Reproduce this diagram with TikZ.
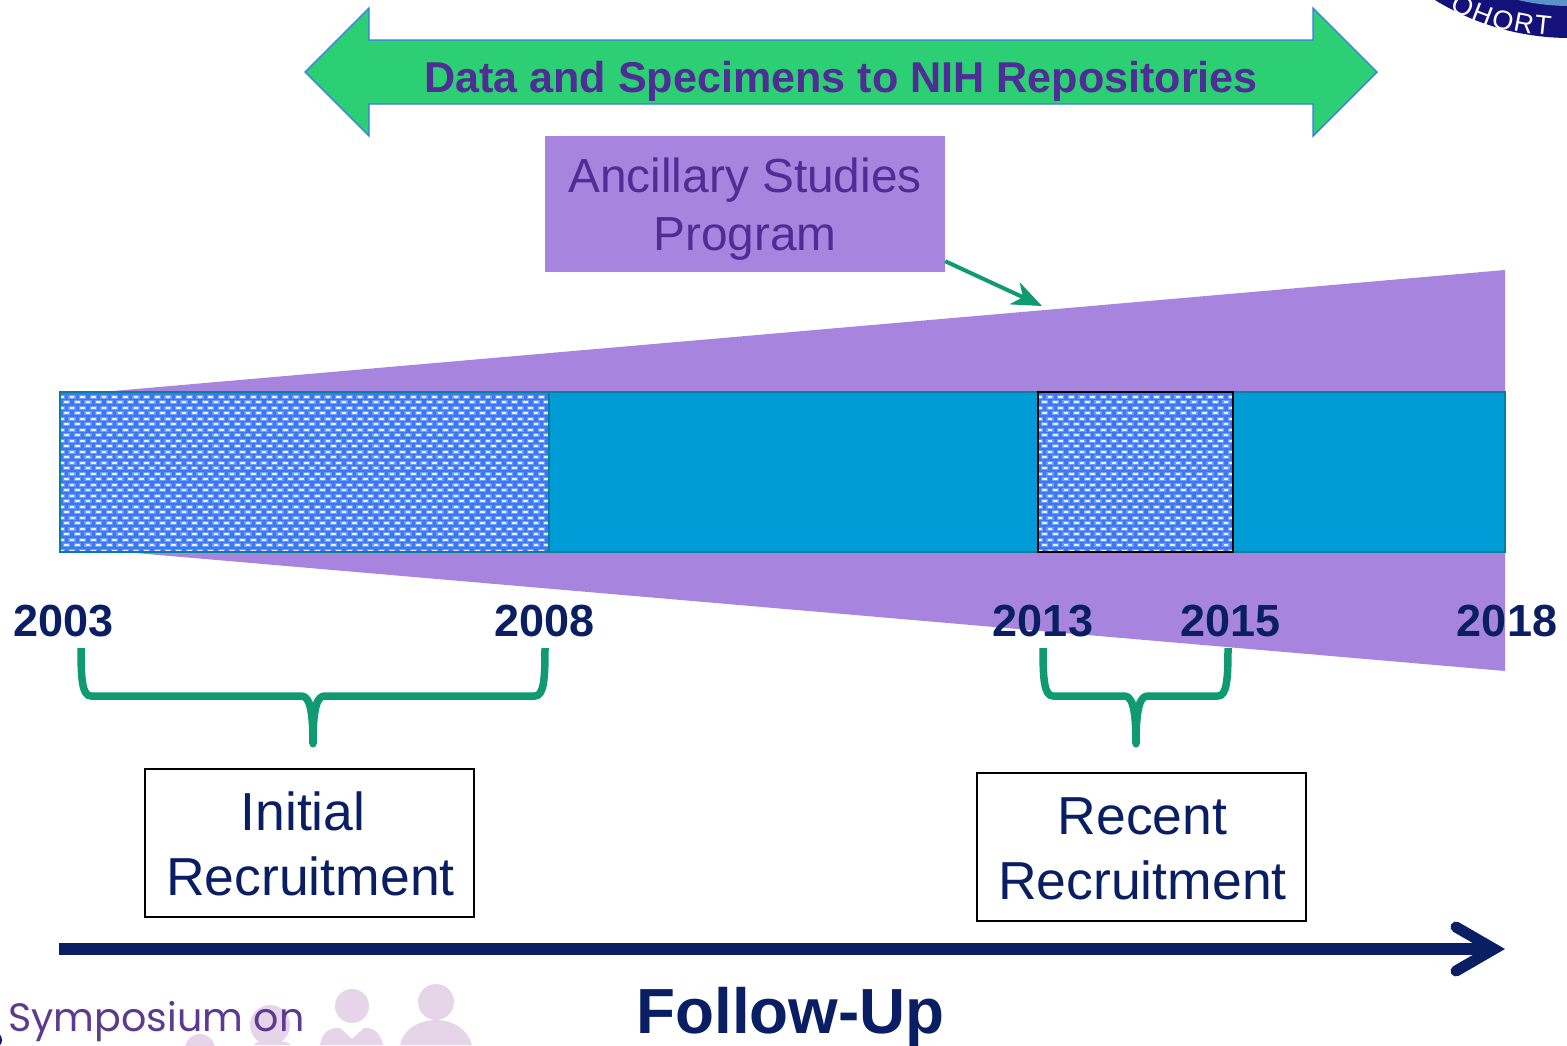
\documentclass[tikz,border=0pt]{standalone}
\usepackage{fontspec}
\setmainfont{Liberation Sans}
\newfontfamily\symfont{Poppins}
\usetikzlibrary{arrows.meta,calc}
\definecolor{navyc}{HTML}{0A1F63}
\definecolor{greenc}{HTML}{2CCF73}
\definecolor{edgec}{HTML}{3A78F0}
\definecolor{purpc}{HTML}{A785DE}
\definecolor{purptxt}{HTML}{4F2C96}
\definecolor{barc}{HTML}{009CD8}
\definecolor{baredge}{HTML}{0A7F9A}
\definecolor{tealc}{HTML}{109A72}
\definecolor{hatchbg}{HTML}{3B78F2}
\definecolor{hatchhalo}{HTML}{6F9CF6}
\definecolor{hatchdot}{HTML}{E8F0FF}
\definecolor{peoplec}{HTML}{E6D5E8}
\definecolor{logoc}{HTML}{14127A}
\definecolor{logoin}{HTML}{5B93C8}
\definecolor{symc}{HTML}{5E3A8E}
\newcommand{\fsz}[1]{\fontsize{#1}{#1}\selectfont}
\newcommand{\hatchdots}[4]{% x1 y1 x2 y2
  \begin{scope}
    \clip (#1,#2) rectangle (#3,#4);
    \pgfmathtruncatemacro{\nrows}{(#4-#2)/5.5+1}
    \pgfmathtruncatemacro{\ncols}{(#3-#1)/10.67+1}
    \foreach \r in {0,...,\nrows}{
      \foreach \c in {0,...,\ncols}{
        \pgfmathsetmacro{\px}{#1+1.3+\c*10.67+(mod(\r,2)==1 ? -5.33 : 0)}
        \pgfmathsetmacro{\py}{#2+4.7+\r*5.5}
        \fill[hatchhalo] (\px-3.6,\py-1.9) rectangle (\px+3.6,\py+1.9);
        \fill[hatchdot] (\px-2.3,\py-1.0) rectangle (\px+2.3,\py+1.0);
      }
    }
  \end{scope}
}
\newcommand{\bracedraw}[5]{% left x, right x, centre x, top y, tip y
  \draw[bracestyle] (#1,#4) .. controls (#1,#4+30) and (#1+1,#4+48) .. (#1+10,#4+48)
    -- (#3-12,#4+48) .. controls (#3-5,#4+48) and (#3,#4+56) .. (#3,#5);
  \draw[bracestyle] (#2,#4) .. controls (#2,#4+30) and (#2-1,#4+48) .. (#2-10,#4+48)
    -- (#3+12,#4+48) .. controls (#3+5,#4+48) and (#3,#4+56) .. (#3,#5);
  \fill[tealc] (#3,#4+50) -- (#3+3.6,#5-3) -- (#3-3.6,#5-3) -- cycle;
  \fill[tealc] (#3,#5) circle (3.5);
}
\tikzset{
  yearlab/.style={font=\fsz{45}\bfseries,text=navyc,inner sep=0pt},
  recbox/.style={draw=black,line width=1.6pt,fill=white,text=navyc,align=center,
    minimum width=329pt,minimum height=148pt,inner sep=0pt},
  boxtext/.style={inner sep=0pt,text=navyc,font=\fsz{53.5},anchor=base},
  bracestyle/.style={draw=tealc,line width=7.5pt,line cap=butt,line join=round},
}
\begin{document}
\begin{tikzpicture}[x=1pt,y=-1pt]
\useasboundingbox (0,0) rectangle (1567,1045);
\begin{scope}
\clip (0,0) rectangle (1567,1045);
% logo
\fill[logoc] (1570,-221) circle (259);
\fill[logoin] (1570,-221) circle (227);
\foreach \ch/\xx/\yy/\aa in {O/1463/6/-27,H/1483/14/-21,O/1503/20/-16,R/1524/23/-11,T/1543/25/-6}{
  \node[text=white,font=\fsz{27},inner sep=0pt,rotate=\aa] at (\xx,\yy) {\ch};
}
% bottom-left people
\fill[peoplec] (270,1025) circle (20);
\fill[peoplec] (200,1049) circle (15);
\fill[peoplec] (352,1006) circle (17);
\fill[peoplec] (436,1002) circle (18);
\fill[peoplec] (320,1045) .. controls (322,1032) and (330,1027) .. (340,1028) -- (352,1039) -- (364,1028) .. controls (374,1027) and (381,1034) .. (383,1045) -- cycle;
\fill[peoplec] (400,1045) .. controls (403,1030) and (418,1020) .. (436,1020) .. controls (454,1020) and (468,1030) .. (472,1045) -- cycle;
\fill[peoplec] (254,1045) .. controls (256,1042) and (262,1040) .. (266,1042) -- (270,1045) -- (274,1042) .. controls (280,1040) and (288,1042) .. (291,1045) -- cycle;
\fill[logoc] (-6,1040) circle (8);
\end{scope}
\node[anchor=base west,inner sep=0pt,text=symc,font=\symfont\fsz{39.6}] (sym) at (8,1031) {Symposium on};
% double arrow
\draw[fill=greenc,draw=edgec,line width=1.4pt,line join=miter]
  (305,72) -- (369,8) -- (369,40) -- (1313,40) -- (1313,8) -- (1377,72) -- (1313,136) -- (1313,104) -- (369,104) -- (369,136) -- cycle;
\node[inner sep=0pt,text=purptxt,font=\fsz{43.1}\bfseries,anchor=base] (data) at (841,92) {Data and Specimens to NIH Repositories};
% wedge
\fill[purpc] (60,395.6) -- (1505,270) -- (1505,671) -- (60,546.5) -- cycle;
% bar
\fill[barc] (60,392) rectangle (1505,552);
\fill[hatchbg] (60,392) rectangle (549,552);
\hatchdots{60}{392}{549}{552}
\fill[hatchbg] (1038,392) rectangle (1233,552);
\hatchdots{1038}{392}{1233}{552}
\draw[baredge,line width=1.4pt] (60,392) rectangle (1505,552);
\draw[baredge,line width=1.2pt] (549,392) -- (549,552);
\draw[black,line width=1.6pt] (1038,392) rectangle (1233,552);
% ancillary
\node[fill=purpc,minimum width=400pt,minimum height=136pt,inner sep=0pt] (anc) at (745,204) {};
\node[inner sep=0pt,text=purptxt,font=\fsz{47.8},anchor=base] (anc1) at (745,192) {Ancillary Studies};
\node[inner sep=0pt,text=purptxt,font=\fsz{47.8},anchor=base] (anc2) at (745,250) {Program};
\coordinate (ancend) at (1042,306);
\draw[tealc,line width=4pt,-{Stealth[length=30pt,width=24pt,inset=9pt]}] (anc.south east) ++(0,-11) -- (ancend);
% years
\node[yearlab] (y03) at (63.5,621) {2003};
\node[yearlab] (y08) at (544.5,621) {2008};
\node[yearlab] (y13) at (1043,621) {2013};
\node[yearlab] (y15) at (1230.5,621) {2015};
\node[yearlab] (y18) at (1507,621) {2018};
% braces
\bracedraw{81}{545}{313}{648}{744}
\bracedraw{1043}{1228}{1136}{648}{744}
% boxes
\node[recbox] (init) at (309.5,843) {};
\node[boxtext] (init1) at (303,830) {Initial};
\node[boxtext] (init2) at (310.5,895) {Recruitment};
\node[recbox] (rec) at (1141.5,847) {};
\node[boxtext] (rec1) at (1142.5,834) {Recent};
\node[boxtext] (rec2) at (1142.5,899) {Recruitment};
% follow-up
\coordinate (fstart) at (59,949);
\coordinate (fend) at (1494,949);
\coordinate (fup) at (1456,927);
\coordinate (fdn) at (1456,971);
\draw[navyc,line width=12pt] (fstart) -- (fend);
\draw[navyc,line width=11pt,line cap=round,line join=miter] (fup) -- (fend) -- (fdn);
\node[inner sep=0pt,text=navyc,font=\fsz{63.8}\bfseries,anchor=base] (fu) at (790.5,1033) {Follow-Up};
\end{tikzpicture}
\end{document}
